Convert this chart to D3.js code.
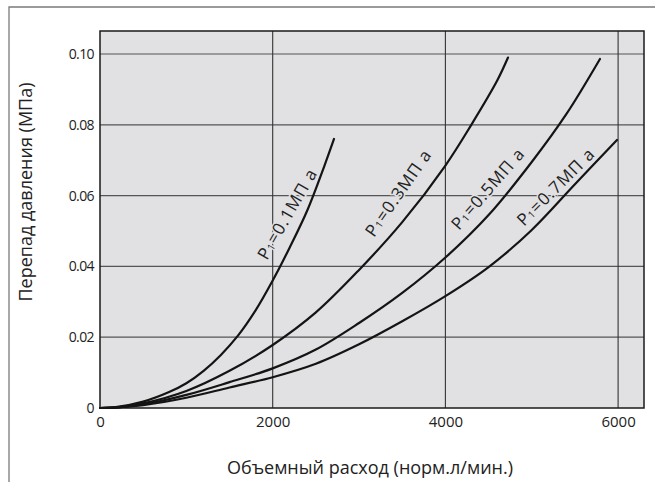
<!DOCTYPE html>
<html>
<head>
<meta charset="utf-8">
<script src="https://cdnjs.cloudflare.com/ajax/libs/d3/7.8.5/d3.min.js"></script>
<style>
  body { margin: 0; background: #fff; }
  text { font-family: "Open Sans", sans-serif; fill: #222; }
</style>
</head>
<body>
<script>
// Curve readings: flow (норм.л/мин.) vs pressure drop (МПа), one array per inlet pressure
var p01 = [[0,0],[200,0.0003],[500,0.0018],[800,0.0045],[1000,0.007],[1200,0.0105],[1400,0.015],[1600,0.0205],[1800,0.0275],[2000,0.036],[2200,0.0455],[2400,0.0558],[2600,0.0685],[2710,0.076]];
var p03 = [[0,0],[200,0.0002],[500,0.0013],[1000,0.0048],[1500,0.0105],[2000,0.0178],[2500,0.027],[3000,0.039],[3500,0.0525],[4000,0.0685],[4300,0.08],[4600,0.0925],[4725,0.099]];
var p05 = [[0,0],[200,0.0002],[500,0.001],[1000,0.0037],[1500,0.0073],[2000,0.0112],[2500,0.0165],[3000,0.024],[3500,0.0325],[4000,0.0425],[4500,0.0545],[5000,0.0695],[5400,0.083],[5790,0.0986]];
var p07 = [[0,0],[200,0.0002],[500,0.0008],[1000,0.0029],[1500,0.0058],[2000,0.0087],[2500,0.0125],[3000,0.018],[3500,0.0245],[4000,0.0316],[4500,0.0398],[5000,0.0503],[5500,0.0632],[5987,0.0757]];

var curves = [p01, p03, p05, p07];
var curveNames = ["0.1", "0.3", "0.5", "0.7"];

var xTicks = [0, 2000, 4000, 6000];
var yTicks = [0, 0.02, 0.04, 0.06, 0.08, 0.10];
var yTickLabels = ["0", "0.02", "0.04", "0.06", "0.08", "0.10"];

var width = 655, height = 482;
var plotBox = {left: 100, right: 644, top: 31, bottom: 408};
var plotFill = "#e1e1e3";

var svg = d3.select("body").append("svg")
            .attr("width", width)
            .attr("height", height);

// outer frame (left and top edges only)
svg.append("path")
   .attr("d", "M9,482 L9,7 L655,7")
   .attr("fill", "none")
   .attr("stroke", "#7a7a7a")
   .attr("stroke-width", 1.3);

var x = d3.scaleLinear().domain([0, 6300]).range([plotBox.left, plotBox.right]);
var y = d3.scaleLinear().domain([0, 0.1065]).range([plotBox.bottom, plotBox.top]);

svg.append("rect")
   .attr("x", plotBox.left)
   .attr("y", plotBox.top)
   .attr("width", plotBox.right - plotBox.left)
   .attr("height", plotBox.bottom - plotBox.top)
   .attr("fill", plotFill);

// grid
svg.append("g").selectAll("line")
   .data(yTicks.slice(1))
   .join("line")
   .attr("x1", plotBox.left).attr("x2", plotBox.right)
   .attr("y1", d => y(d)).attr("y2", d => y(d))
   .attr("stroke", "#555")
   .attr("stroke-width", 1.2);

svg.append("g").selectAll("line")
   .data(xTicks.slice(1))
   .join("line")
   .attr("x1", d => x(d)).attr("x2", d => x(d))
   .attr("y1", plotBox.top).attr("y2", plotBox.bottom)
   .attr("stroke", "#333")
   .attr("stroke-width", 1.1);

svg.append("rect")
   .attr("x", plotBox.left)
   .attr("y", plotBox.top)
   .attr("width", plotBox.right - plotBox.left)
   .attr("height", plotBox.bottom - plotBox.top)
   .attr("fill", "none")
   .attr("stroke", "#1a1a1a")
   .attr("stroke-width", 1.5);

// axes
var yAxis = svg.append("g")
   .attr("transform", "translate(" + plotBox.left + ",0)")
   .call(d3.axisLeft(y).tickValues(yTicks).tickSize(0).tickPadding(6)
           .tickFormat((d, i) => yTickLabels[i]));
var xAxis = svg.append("g")
   .attr("transform", "translate(0," + plotBox.bottom + ")")
   .call(d3.axisBottom(x).tickValues(xTicks).tickSize(0).tickPadding(8)
           .tickFormat(d3.format("d")));
[xAxis, yAxis].forEach(function(a) {
  a.select(".domain").remove();
  a.selectAll("text")
   .style("font-family", "'Open Sans', sans-serif")
   .attr("fill", "#222");
});
yAxis.selectAll("text").style("font-size", "14px").attr("letter-spacing", "-0.6");
xAxis.selectAll("text").style("font-size", "15px");

// curve labels (drawn under the curves, with a halo that breaks the grid)
var labelPos = [[267, 261, -60], [374, 238, -55], [459, 231, -49], [524, 227, -45]];
curveNames.forEach(function(name, i) {
  var p = labelPos[i];
  var t = svg.append("text")
             .attr("transform", "translate(" + p[0] + "," + p[1] + ") rotate(" + p[2] + ")")
             .style("font-size", "17px")
             .attr("letter-spacing", "1.1")
             .attr("fill", "#1a1a1a")
             .attr("stroke", plotFill)
             .attr("stroke-width", 3)
             .attr("paint-order", "stroke");
  t.append("tspan").text("P");
  t.append("tspan").style("font-size", "10px").text("1");
  t.append("tspan").text("=" + name + "МП а");
});

// curves
var line = d3.line()
             .x(d => x(d[0]))
             .y(d => y(d[1]))
             .curve(d3.curveCatmullRom.alpha(0.5));

svg.append("g").selectAll("path")
   .data(curves)
   .join("path")
   .attr("d", line)
   .attr("fill", "none")
   .attr("stroke", "#141414")
   .attr("stroke-width", 2.2)
   .attr("stroke-linecap", "round");

// axis titles
svg.append("text")
   .attr("transform", "translate(32,192) rotate(-90)")
   .attr("text-anchor", "middle")
   .style("font-size", "18px")
   .text("Перепад давления (МПа)");

svg.append("text")
   .attr("x", 370)
   .attr("y", 474)
   .attr("text-anchor", "middle")
   .style("font-size", "18px")
   .text("Объемный расход (норм.л/мин.)");
</script>
</body>
</html>
